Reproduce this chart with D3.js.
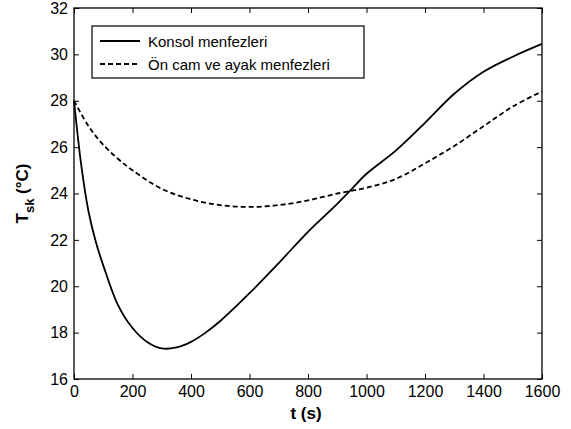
<!DOCTYPE html>
<html>
<head>
<meta charset="utf-8">
<script src="https://cdn.jsdelivr.net/npm/d3@7"></script>
<style>
  html, body { margin: 0; padding: 0; background: #fff; }
  svg { display: block; font-family: "Liberation Sans", Arial, Helvetica, sans-serif; }
</style>
</head>
<body>
<svg id="chart" width="571" height="429"></svg>
<script>
// Skin temperature over time for two vent configurations
const konsolTime = [0, 25, 50, 75, 100, 150, 200, 250, 300, 350, 400, 450, 500, 600, 700, 800, 900, 950, 1000, 1100, 1200, 1300, 1400, 1500, 1600];
const konsolTemp = [28.0, 25.2, 23.2, 21.9, 20.9, 19.2, 18.2, 17.6, 17.32, 17.36, 17.6, 18.0, 18.5, 19.7, 21.0, 22.35, 23.55, 24.2, 24.85, 25.85, 27.05, 28.3, 29.25, 29.9, 30.45];

const onCamTime = [0, 50, 100, 150, 200, 300, 400, 500, 600, 700, 800, 900, 1000, 1100, 1200, 1300, 1400, 1500, 1600];
const onCamTemp = [28.0, 26.9, 26.1, 25.5, 25.0, 24.2, 23.75, 23.5, 23.42, 23.5, 23.7, 24.0, 24.25, 24.63, 25.3, 26.05, 26.9, 27.75, 28.4];

const seriesNames = ["Konsol menfezleri", "Ön cam ve ayak menfezleri"];
const xTicks = [0, 200, 400, 600, 800, 1000, 1200, 1400, 1600];
const yTicks = [16, 18, 20, 22, 24, 26, 28, 30, 32];

const svg = d3.select("#chart");
const plot = { left: 74, right: 542, top: 8, bottom: 379 };

const x = d3.scaleLinear().domain([0, 1600]).range([plot.left, plot.right]);
const y = d3.scaleLinear().domain([16, 32]).range([plot.bottom, plot.top]);

// Axes with inward ticks on all four sides
const tickLen = 5;
const axFont = "16px";
const fmt = d3.format("d");

const gB = svg.append("g").attr("transform", `translate(0,${plot.bottom})`)
  .call(d3.axisBottom(x).tickValues(xTicks).tickFormat(fmt).tickSizeInner(-tickLen).tickSizeOuter(0).tickPadding(7));
const gT = svg.append("g").attr("transform", `translate(0,${plot.top})`)
  .call(d3.axisTop(x).tickValues(xTicks).tickSizeInner(-tickLen).tickSizeOuter(0).tickFormat(""));
const gL = svg.append("g").attr("transform", `translate(${plot.left},0)`)
  .call(d3.axisLeft(y).tickValues(yTicks).tickFormat(fmt).tickSizeInner(-tickLen).tickSizeOuter(0).tickPadding(6));
const gR = svg.append("g").attr("transform", `translate(${plot.right},0)`)
  .call(d3.axisRight(y).tickValues(yTicks).tickSizeInner(-tickLen).tickSizeOuter(0).tickFormat(""));

[gB, gT, gL, gR].forEach(g => {
  g.select(".domain").remove();
  g.selectAll("line").attr("stroke", "#000").attr("stroke-width", 1);
  g.selectAll("text").attr("fill", "#000").style("font-size", axFont)
    .style("font-family", '"Liberation Sans", Arial, sans-serif');
});

// Plot frame
svg.append("rect")
  .attr("x", plot.left).attr("y", plot.top)
  .attr("width", plot.right - plot.left).attr("height", plot.bottom - plot.top)
  .attr("fill", "none").attr("stroke", "#000").attr("stroke-width", 1.3);

// Curves
const line = d3.line().x(d => x(d[0])).y(d => y(d[1])).curve(d3.curveCatmullRom.alpha(0.5));

svg.append("path")
  .datum(konsolTime.map((t, i) => [t, konsolTemp[i]]))
  .attr("d", line).attr("fill", "none").attr("stroke", "#000").attr("stroke-width", 1.8);

svg.append("path")
  .datum(onCamTime.map((t, i) => [t, onCamTemp[i]]))
  .attr("d", line).attr("fill", "none").attr("stroke", "#000").attr("stroke-width", 1.8)
  .attr("stroke-dasharray", "5,3");

// Legend
const lg = svg.append("g");
lg.append("rect").attr("x", 92).attr("y", 26).attr("width", 272).attr("height", 52)
  .attr("fill", "#fff").attr("stroke", "#000").attr("stroke-width", 1.2);
const rows = [{ y: 41, dash: null }, { y: 64, dash: "5,3" }];
rows.forEach((r, i) => {
  lg.append("line").attr("x1", 100).attr("x2", 140).attr("y1", r.y).attr("y2", r.y)
    .attr("stroke", "#000").attr("stroke-width", 1.8)
    .attr("stroke-dasharray", r.dash);
  lg.append("text").attr("x", 148).attr("y", r.y + 6).text(seriesNames[i])
    .style("font-size", "15px").attr("fill", "#000");
});

// Axis titles
svg.append("text").attr("x", 306).attr("y", 419)
  .attr("text-anchor", "middle").style("font-size", "17px").style("font-weight", "bold")
  .text("t (s)");

const yt = svg.append("text")
  .attr("transform", `translate(28,${(plot.top + plot.bottom) / 2}) rotate(-90)`)
  .attr("text-anchor", "middle").style("font-size", "17px").style("font-weight", "bold");
yt.append("tspan").text("T");
yt.append("tspan").attr("dy", 6).style("font-size", "13px").text("sk");
yt.append("tspan").attr("dy", -6).text(" (°C)");
</script>
</body>
</html>
